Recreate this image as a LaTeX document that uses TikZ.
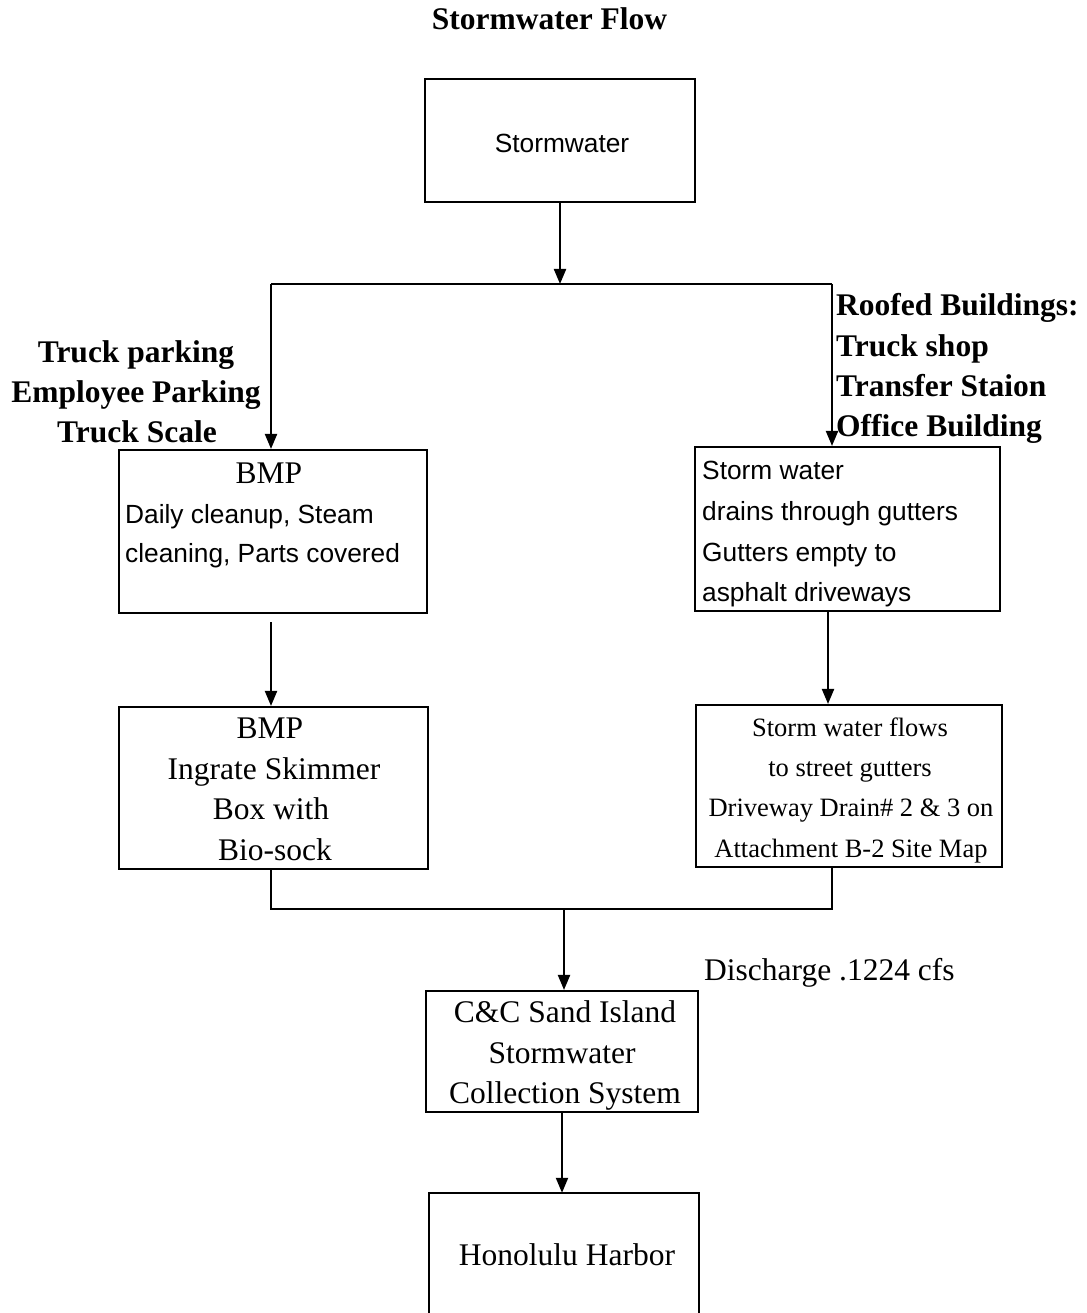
\documentclass[tikz,border=0pt]{standalone}
\usepackage{fontspec}
\setmainfont{Liberation Serif}
\newfontfamily\arialfam{Liberation Sans}
\usetikzlibrary{arrows.meta}
\newcommand\serifbig{\fontsize{31.5}{40}\selectfont}
\newcommand\serifsmall{\fontsize{26.5}{40}\selectfont}
\newcommand\sansmid{\arialfam\fontsize{26.3}{40}\selectfont}
\newcommand\boldbig{\bfseries\fontsize{31.5}{40}\selectfont}
\begin{document}
\begin{tikzpicture}[x=1pt,y=-1pt,
  boxnode/.style={draw, line width=2.1pt, inner sep=0pt},
  arr/.style={line width=2.1pt, -{Triangle[length=15pt,width=12pt]}},
  plain/.style={line width=2.1pt},
  ctext/.style={inner sep=0pt, anchor=base},
  ltext/.style={inner sep=0pt, anchor=base west}]
\useasboundingbox (0,0) rectangle (1086,1313);

% title
\node[ctext, font=\boldbig] (title) at (549.5,30) {Stormwater Flow};

% boxes
\node[boxnode, minimum width=270pt, minimum height=123pt] (top) at (560,140.5) {};
\node[boxnode, minimum width=308pt, minimum height=163pt] (bmpa) at (273,531.5) {};
\node[boxnode, minimum width=305pt, minimum height=164pt] (ra) at (847.5,529) {};
\node[boxnode, minimum width=309pt, minimum height=162pt] (bmpb) at (273.5,788) {};
\node[boxnode, minimum width=306pt, minimum height=162pt] (rb) at (849,786) {};
\node[boxnode, minimum width=272pt, minimum height=121pt] (cc) at (562,1051.5) {};
\node[inner sep=0pt, minimum width=270pt, minimum height=120pt] (harbor) at (564,1253) {};
\draw[plain] (harbor.south west) -- (harbor.north west) -- (harbor.north east) -- (harbor.south east);

% box texts
\node[ctext, font=\sansmid] (ttop) at (562,153) {Stormwater};

\node[ctext, font=\serifbig] (ta1) at (269,483) {BMP};
\node[ltext, font=\sansmid] (ta2) at (125,523) {Daily cleanup, Steam};
\node[ltext, font=\sansmid] (ta3) at (125,562) {cleaning, Parts covered};

\node[ltext, font=\sansmid] (tr1) at (702,479) {Storm water};
\node[ltext, font=\sansmid] (tr2) at (702,520) {drains through gutters};
\node[ltext, font=\sansmid] (tr3) at (702,561) {Gutters empty to};
\node[ltext, font=\sansmid] (tr4) at (702,601) {asphalt driveways};

\node[ctext, font=\serifbig] (tb1) at (270,738) {BMP};
\node[ctext, font=\serifbig] (tb2) at (274,779) {Ingrate Skimmer};
\node[ctext, font=\serifbig] (tb3) at (271,819) {Box with};
\node[ctext, font=\serifbig] (tb4) at (275,860) {Bio-sock};

\node[ctext, font=\serifsmall] (ts1) at (850,736) {Storm water flows};
\node[ctext, font=\serifsmall] (ts2) at (850,776) {to street gutters};
\node[ctext, font=\serifsmall] (ts3) at (851,816) {Driveway Drain\# 2 \& 3 on};
\node[ctext, font=\serifsmall] (ts4) at (851,857) {Attachment B-2 Site Map};

\node[ctext, font=\serifbig] (tc1) at (565,1022) {C\&C Sand Island};
\node[ctext, font=\serifbig] (tc2) at (562,1063) {Stormwater};
\node[ctext, font=\serifbig] (tc3) at (565,1103) {Collection System};

\node[ctext, font=\serifbig] (th) at (567,1265) {Honolulu Harbor};

% side labels
\node[ctext, font=\boldbig] (la1) at (136,362) {Truck parking};
\node[ctext, font=\boldbig] (la2) at (136,402) {Employee Parking};
\node[ctext, font=\boldbig] (la3) at (137,442) {Truck Scale};

\node[ltext, font=\boldbig] (lb1) at (836,316) {Roofed Buildings:};
\node[ltext, font=\boldbig] (lb2) at (836,356) {Truck shop};
\node[ltext, font=\boldbig] (lb3) at (836,396) {Transfer Staion};
\node[ltext, font=\boldbig] (lb4) at (836,436) {Office Building};

\node[ltext, font=\serifbig] (dis) at (704,980) {Discharge .1224 cfs};

% connectors
\coordinate (jT) at (560,284);
\coordinate (jL) at (271,284);
\coordinate (jR) at (832,284);
\draw[arr] (top.south) -- (jT);
\draw[plain] (jL) -- (jR);
\draw[arr] (jL) -- (jL |- bmpa.north);
\draw[arr] (jR) -- (jR |- ra.north);

\coordinate (gA) at (271,622);
\draw[arr] (gA) -- (gA |- bmpb.north);
\coordinate (gR) at (828,611);
\draw[arr] (gR |- ra.south) -- (gR |- rb.north);

\coordinate (mL) at (271,909);
\coordinate (mR) at (832,909);
\coordinate (mC) at (564,909);
\draw[plain] (mL |- bmpb.south) -- (mL) -- (mR) -- (mR |- rb.south);
\draw[arr] (mC) -- (mC |- cc.north);
\draw[arr] (cc.south) -- (cc.south |- harbor.north);
\end{tikzpicture}
\end{document}
